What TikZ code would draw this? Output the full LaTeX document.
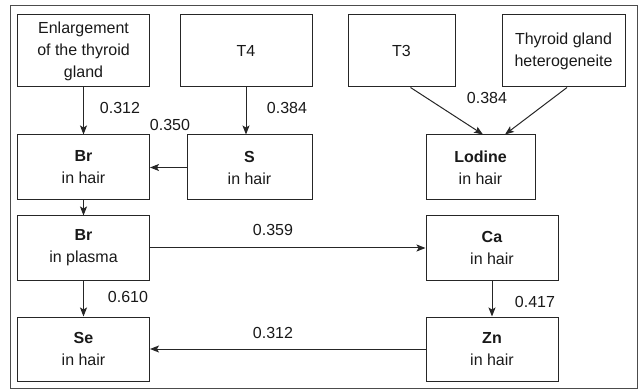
\documentclass[tikz,border=0pt]{standalone}
\usepackage{fontspec}
\setmainfont{Liberation Sans}
\usetikzlibrary{arrows.meta,calc}
\begin{document}
\begin{tikzpicture}[x=1pt,y=-1pt,
  box/.style={draw=black!85, line width=1pt, rectangle, align=center, inner sep=0pt,
    text=black!90, font=\fontsize{16}{22}\selectfont},
  lab/.style={font=\fontsize{16}{18}\selectfont, inner sep=0pt, text=black!90},
  arr/.style={draw=black!85, line width=1pt, -{Stealth[length=9pt,width=7pt,inset=2pt]}}]
\useasboundingbox (0,0) rectangle (640,390);
\draw[black!70, line width=0.9pt] (10,5) rectangle (637,388);
\node[box, minimum width=132, minimum height=72] (enl) at (83.5,51) {Enlargement\\of the thyroid\\gland};
\node[box, minimum width=132, minimum height=72] (t4) at (246,51) {T4};
\node[box, minimum width=107, minimum height=72] (t3) at (401.5,51) {T3};
\node[box, minimum width=123, minimum height=72] (thy) at (563.5,51) {Thyroid gland\\heterogeneite};
\node[box, minimum width=132, minimum height=65] (brh) at (83.5,167.5) {\textbf{Br}\\in hair};
\node[box, minimum width=125, minimum height=65] (s) at (249.5,167.5) {\textbf{S}\\in hair};
\node[box, minimum width=109, minimum height=65] (lod) at (480.5,167.5) {\textbf{Lodine}\\in hair};
\node[box, minimum width=132, minimum height=64] (brp) at (83.5,248) {\textbf{Br}\\in plasma};
\node[box, minimum width=132, minimum height=64] (ca) at (492,248) {\textbf{Ca}\\in hair};
\node[box, minimum width=132, minimum height=64] (se) at (83.5,349) {\textbf{Se}\\in hair};
\node[box, minimum width=132, minimum height=64] (zn) at (492,349) {\textbf{Zn}\\in hair};
\draw[arr] (enl) -- (brh);
\draw[arr] (t4.south) -- (t4.south |- s.north);
\draw[arr] (s) -- (brh);
\draw[arr] ($(t3.south)+(9,0)$) -- ($(lod.north)+(2.5,0)$);
\draw[arr] ($(thy.south)+(3.5,0)$) -- ($(lod.north)+(24.5,0)$);
\draw[arr] (brh) -- (brp);
\draw[arr] (brp) -- (ca);
\draw[arr] (ca) -- (zn);
\draw[arr] (zn) -- (se);
\draw[arr] (brp) -- (se);
\node[lab] (l1) at (120,108) {0.312};
\node[lab] (l2) at (170,125) {0.350};
\node[lab] (l3) at (287,108) {0.384};
\node[lab] (l4) at (487,98) {0.384};
\node[lab] (l5) at (273,230) {0.359};
\node[lab] (l6) at (128,297) {0.610};
\node[lab] (l7) at (535,302) {0.417};
\node[lab] (l8) at (273,333) {0.312};
\end{tikzpicture}
\end{document}
